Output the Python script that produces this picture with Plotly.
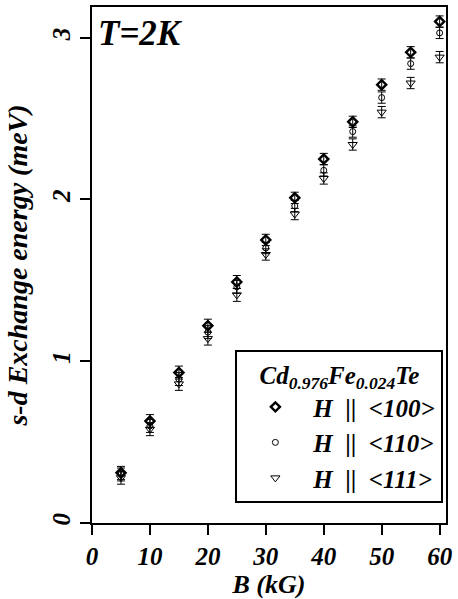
import plotly.graph_objects as go

B = [5, 10, 15, 20, 25, 30, 35, 40, 45, 50, 55, 60]
E_100 = [0.31, 0.63, 0.93, 1.22, 1.49, 1.75, 2.01, 2.25, 2.48, 2.71, 2.91, 3.10]
E_110 = [0.30, 0.60, 0.89, 1.18, 1.46, 1.70, 1.96, 2.18, 2.42, 2.63, 2.84, 3.03]
E_111 = [0.28, 0.58, 0.86, 1.14, 1.41, 1.66, 1.91, 2.13, 2.34, 2.54, 2.72, 2.88]
ERR = [0.04, 0.04, 0.04, 0.04, 0.04, 0.035, 0.035, 0.035, 0.035, 0.035, 0.035, 0.035]

FONT = "Liberation Serif"
SP = "\u2002"

series = [
    (f"<b><i>H</i></b>{SP}<b>||</b>{SP}<b><i>&lt;100&gt;</i></b>", E_100, "diamond-open", 7, 2.4),
    (f"<b><i>H</i></b>{SP}<b>||</b>{SP}<b><i>&lt;110&gt;</i></b>", E_110, "circle-open", 6, 1),
    (f"<b><i>H</i></b>{SP}<b>||</b>{SP}<b><i>&lt;111&gt;</i></b>", E_111, "triangle-down-open", 8, 1),
]

fig = go.Figure()
for name, ys, sym, size, lw in series:
    fig.add_trace(go.Scatter(
        x=B, y=ys, mode="markers", name=name,
        marker=dict(symbol=sym, size=size, color="black", line=dict(color="black", width=lw)),
        error_y=dict(type="data", array=ERR, visible=True, color="black", thickness=1, width=4),
    ))

tickfont = dict(family=FONT, size=25, color="black", weight="bold", style="italic")
xtitle = dict(family=FONT, size=26, color="black", weight="bold", style="italic")
ytitle = dict(family=FONT, size=28, color="black", weight="bold", style="italic")

fig.update_layout(
    width=458, height=599,
    margin=dict(l=92, r=6, t=5, b=76),
    paper_bgcolor="white", plot_bgcolor="white",
    showlegend=True,
    legend=dict(
        x=0.405, y=0.336, xanchor="left", yanchor="top",
        bordercolor="black", borderwidth=2, bgcolor="white",
        font=dict(family=FONT, size=25, color="black"),
        title=dict(text="<b><i>Cd<sub>0.976</sub>Fe<sub>0.024</sub>Te</i></b>",
                   font=dict(family=FONT, size=25, color="black"), side="top center"),
        itemwidth=66,
    ),
    xaxis=dict(
        range=[0, 61.1], tickvals=[0, 10, 20, 30, 40, 50, 60],
        ticks="outside", ticklen=10, tickwidth=2, tickcolor="black",
        showline=True, linecolor="black", linewidth=2, mirror=True,
        showgrid=False, zeroline=False,
        tickfont=tickfont,
        title=dict(text="B (kG)", font=xtitle, standoff=2),
    ),
    yaxis=dict(
        range=[0, 3.19], tickvals=[0, 1, 2, 3],
        ticks="outside", ticklen=10, tickwidth=2, tickcolor="black",
        showline=True, linecolor="black", linewidth=2, mirror=True,
        showgrid=False, zeroline=False, tickangle=-90,
        tickfont=tickfont,
        title=dict(text="s-d Exchange energy (meV)", font=ytitle, standoff=12),
    ),
    annotations=[dict(
        text="T=2K", xref="paper", yref="paper", x=0.01, y=0.99,
        xanchor="left", yanchor="top", showarrow=False,
        font=dict(family=FONT, size=35, color="black", weight="bold", style="italic"),
    )],
)

fig.write_html("out.html", config={"displayModeBar": False},
               post_script="document.body.style.margin='0';document.body.style.overflow='hidden';")
